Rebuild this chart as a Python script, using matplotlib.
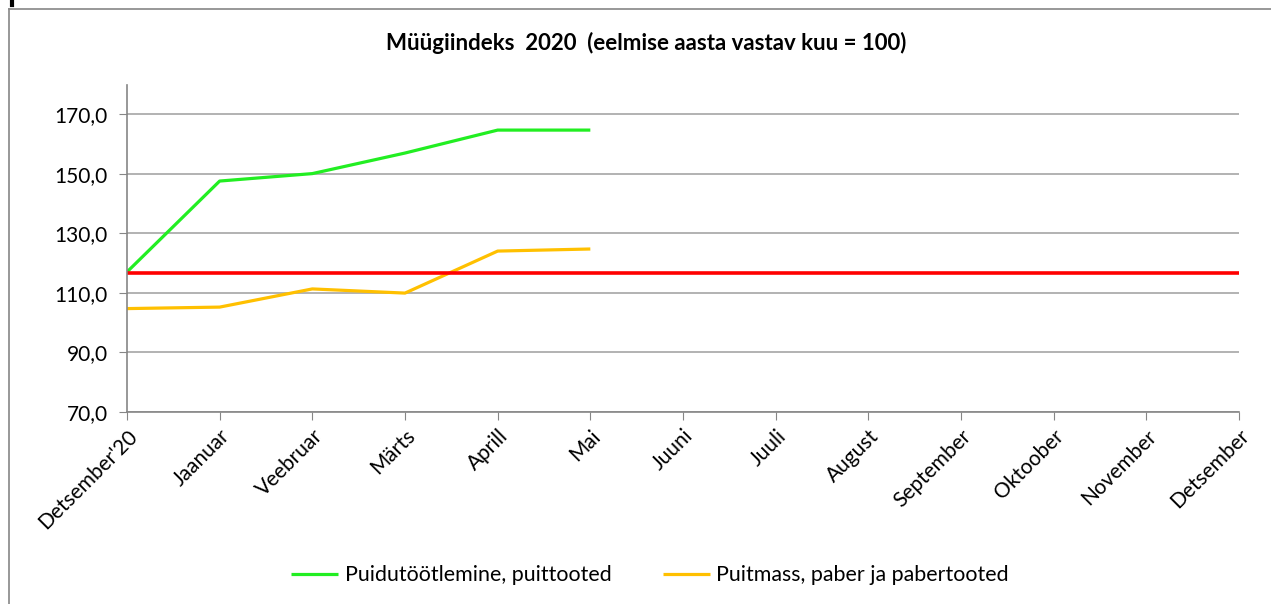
import matplotlib.pyplot as plt
from matplotlib.lines import Line2D

plt.rcParams['font.family'] = ['Lato', 'DejaVu Sans']

kuud = ["Detsember'20", "Jaanuar", "Veebruar", "Märts", "Aprill", "Mai", "Juuni",
        "Juuli", "August", "September", "Oktoober", "November", "Detsember"]
puit = [117.0, 147.5, 150.0, 156.9, 164.6, 164.6]
paber = [104.7, 105.2, 111.3, 109.9, 124.0, 124.7]
tase = 116.6  # punane joon
y_ticks = [70, 90, 110, 130, 150, 170]

fig = plt.figure(figsize=(12.71, 6.04), dpi=100)
W, H = 1271, 604
ax = fig.add_axes([127 / W, 1 - 412 / H, (1239 - 127) / W, (412 - 85) / H])

x = list(range(len(kuud)))
ax.plot(x[:len(puit)], puit, color='#22EE22', lw=2.3, label='Puidutöötlemine, puittooted', solid_capstyle='butt')
ax.plot(x[:len(paber)], paber, color='#FFC000', lw=2.3, label='Puitmass, paber ja pabertooted', solid_capstyle='butt')
ax.plot(x, [tase] * len(x), color='#FF0000', lw=2.6, solid_capstyle='butt')

ax.set_xlim(0, len(kuud) - 1)
ax.set_ylim(70, 70 + (412 - 85) / 2.98)
ax.set_yticks(y_ticks)
ax.set_yticklabels([f"{v:.1f}".replace('.', ',') for v in y_ticks], fontsize=15)
ax.set_xticks(x)
ax.set_xticklabels(kuud, rotation=45, ha='right', va='top', rotation_mode='anchor', fontsize=15)
ax.tick_params(axis='x', length=6, color='#868686', pad=4)
ax.tick_params(axis='y', length=6, color='#868686', pad=8)

ax.grid(axis='y', color='#A6A6A6', lw=1.2)
ax.set_axisbelow(True)
for s in ['top', 'right']:
    ax.spines[s].set_visible(False)
for s in ['left', 'bottom']:
    ax.spines[s].set_color('#868686')
    ax.spines[s].set_linewidth(1.2)

fig.text(646 / W, 1 - 43 / H, 'Müügiindeks  2020  (eelmise aasta vastav kuu = 100)',
         ha='center', va='center', fontsize=16, fontweight='bold')

fig.legend(loc='center', bbox_to_anchor=(650 / W, 1 - 575 / H), ncol=2, frameon=False,
           fontsize=15.4, handlelength=2.2, columnspacing=2.4, handletextpad=0.3)

# raam
fig.add_artist(Line2D([9 / W, 9 / W], [0, 1 - 9 / H], color='#868686', lw=1.2))
fig.add_artist(Line2D([9 / W, 1], [1 - 9 / H, 1 - 9 / H], color='#868686', lw=1.2))
fig.add_artist(Line2D([12 / W, 12 / W], [1, 1 - 5 / H], color='black', lw=3))

fig.savefig('out.png', dpi=100)
